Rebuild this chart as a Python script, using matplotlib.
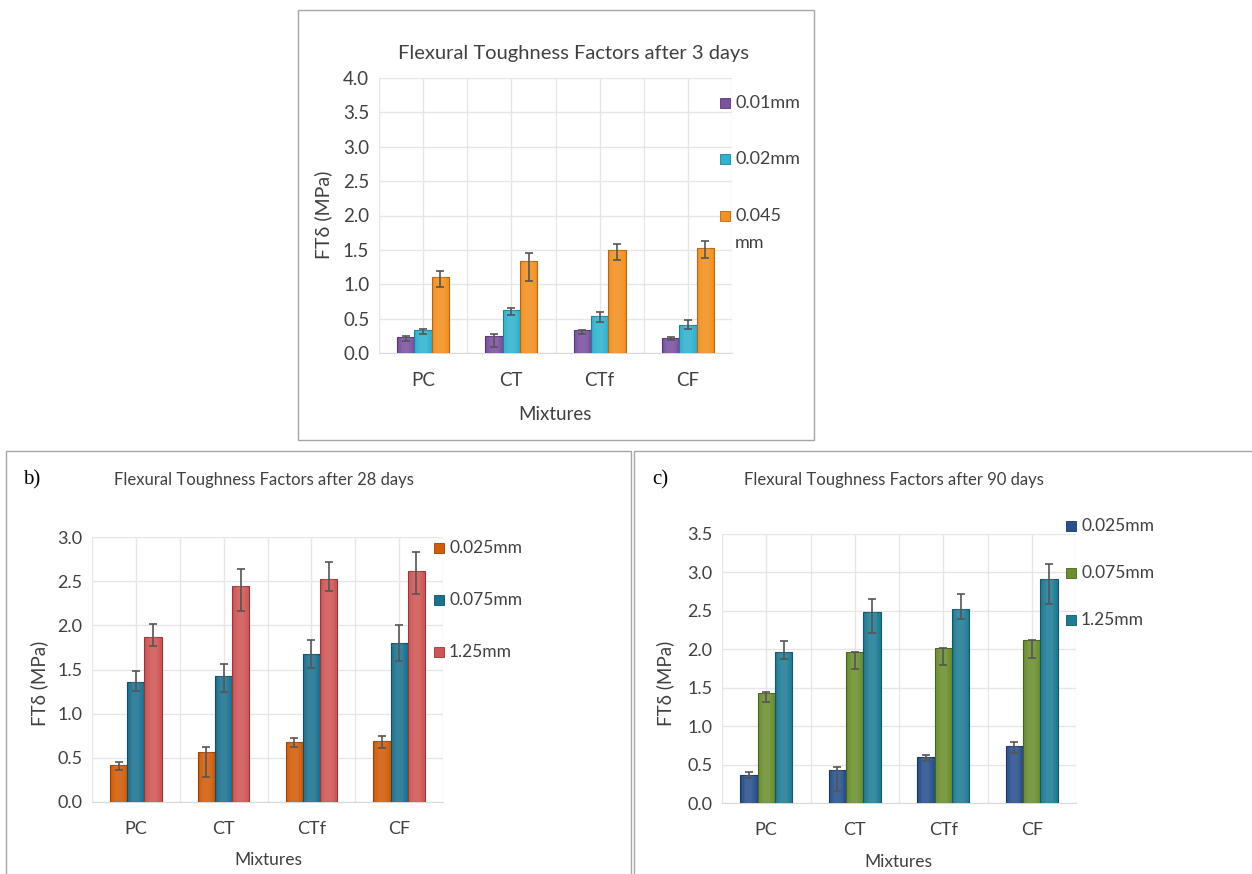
import numpy as np
import matplotlib
matplotlib.use("Agg")
import matplotlib.pyplot as plt
from matplotlib.patches import Rectangle

plt.rcParams['font.family'] = ['Lato', 'DejaVu Sans']

mixtures = ["PC", "CT", "CTf", "CF"]

# a) 3 days
labels_3 = ["0.01mm", "0.02mm", "0.045\nmm"]
vals_3 = [[0.23, 0.25, 0.33, 0.22],
          [0.33, 0.63, 0.54, 0.41],
          [1.11, 1.34, 1.50, 1.53]]
hi_3 = [[0.25, 0.28, 0.34, 0.23],
        [0.35, 0.66, 0.60, 0.48],
        [1.19, 1.45, 1.59, 1.63]]
lo_3 = [[0.18, 0.09, 0.28, 0.19],
        [0.27, 0.56, 0.45, 0.35],
        [0.96, 1.05, 1.36, 1.38]]

# b) 28 days
labels_28 = ["0.025mm", "0.075mm", "1.25mm"]
vals_28 = [[0.42, 0.57, 0.68, 0.69],
           [1.36, 1.43, 1.68, 1.80],
           [1.87, 2.44, 2.53, 2.62]]
hi_28 = [[0.45, 0.62, 0.72, 0.75],
         [1.48, 1.56, 1.83, 2.00],
         [2.02, 2.64, 2.72, 2.83]]
lo_28 = [[0.36, 0.28, 0.62, 0.61],
         [1.26, 1.24, 1.52, 1.60],
         [1.77, 2.16, 2.39, 2.35]]

# c) 90 days
labels_90 = ["0.025mm", "0.075mm", "1.25mm"]
vals_90 = [[0.37, 0.43, 0.60, 0.74],
           [1.43, 1.96, 2.02, 2.12],
           [1.96, 2.48, 2.53, 2.91]]
hi_90 = [[0.40, 0.47, 0.63, 0.80],
         [1.44, 1.97, 2.02, 2.12],
         [2.11, 2.66, 2.72, 3.11]]
lo_90 = [[0.33, 0.16, 0.54, 0.65],
         [1.31, 1.75, 1.79, 1.89],
         [1.87, 2.21, 2.39, 2.59]]

cols_3 = [("#7b51a1", "#553573"), ("#2fb2cf", "#1e7f96"), ("#f3911f", "#b8650f")]
cols_28 = [("#d35c08", "#9c4206"), ("#1b7290", "#114e63"), ("#cf5555", "#9a3636")]
cols_90 = [("#28508e", "#183563"), ("#6b8f2f", "#48621e"), ("#1f7c95", "#135668")]

W, H = 1252, 874
fig = plt.figure(figsize=(W / 100, H / 100), dpi=100)
fig.patch.set_facecolor("white")

TXT = "#404040"


def fx(px):
    return px / W


def fy(py):
    return 1 - py / H


def box(x0, y0, x1, y1):
    fig.add_artist(Rectangle((fx(x0), fy(y1)), fx(x1 - x0), (y1 - y0) / H,
                             transform=fig.transFigure, fill=False,
                             edgecolor="#a6a6a6", linewidth=1.0))


def panel(rect, vals, hi, lo, cols, ymax, fs):
    ax = fig.add_axes(rect)
    x = np.arange(len(mixtures))
    w = 0.196
    for i in range(3):
        v = np.array(vals[i])
        err = [v - np.array(lo[i]), np.array(hi[i]) - v]
        ax.bar(x + (i - 1) * w, v, width=w, color=cols[i][0],
               edgecolor=cols[i][1], linewidth=0.8, zorder=3)
        # stacked translucent strips -> lighter centre, like Excel's bevel
        for f in [0.8, 0.6, 0.4]:
            ax.bar(x + (i - 1) * w, v, width=w * f, color="white",
                   alpha=0.045, linewidth=0, zorder=3.5)
        ax.errorbar(x + (i - 1) * w, v, yerr=err, fmt="none",
                    ecolor="#555555", elinewidth=1.2, capsize=3,
                    capthick=1.2, zorder=4)
    ax.set_xlim(-0.5, len(mixtures) - 0.5)
    ax.set_ylim(0, ymax)
    ticks = np.arange(0, ymax + 0.01, 0.5)
    ax.set_yticks(ticks)
    ax.set_yticklabels([f"{t:.1f}" for t in ticks])
    ax.set_xticks(x)
    ax.set_xticklabels(mixtures)
    ax.grid(axis="y", color="#e6e6e6", linewidth=1.0, zorder=0)
    for g in np.arange(-0.5, len(mixtures), 0.5):
        ax.axvline(g, color="#e6e6e6", linewidth=1.0, zorder=0)
    ax.tick_params(which="both", length=0, labelsize=fs, colors=TXT, pad=7)
    ax.tick_params(axis="x", pad=14)
    for s in ["top", "right", "left"]:
        ax.spines[s].set_visible(False)
    ax.spines["bottom"].set_color("#d9d9d9")
    ax.set_axisbelow(True)
    return ax


def legend(labels, cols, x_mark, ys, fs):
    for lab, c, y in zip(labels, cols, ys):
        fig.add_artist(Rectangle((fx(x_mark), fy(y + 5)), fx(10), 10 / H,
                                 transform=fig.transFigure,
                                 facecolor=c[0], edgecolor=c[1], linewidth=0.6))
        fig.text(fx(x_mark + 15), fy(y), lab, fontsize=fs, color=TXT,
                 ha="left", va="center")


# ---- top panel ----
box(298, 10, 814, 440)
panel([fx(379), fy(353), fx(353), 275 / H], vals_3, hi_3, lo_3, cols_3, 4.0, 13.5)
fig.text(fx(574), fy(53), "Flexural Toughness Factors after 3 days",
         fontsize=14.5, color=TXT, ha="center", va="center")
fig.text(fx(323), fy(215), "FTδ (MPa)", fontsize=14, color=TXT,
         rotation=90, ha="center", va="center")
fig.text(fx(555), fy(415), "Mixtures", fontsize=13.5, color=TXT,
         ha="center", va="center")
legend(labels_3[:2], cols_3[:2], 720, [103, 159], 13)
fig.add_artist(Rectangle((fx(720), fy(221)), fx(10), 10 / H,
                         transform=fig.transFigure,
                         facecolor=cols_3[2][0], edgecolor=cols_3[2][1], linewidth=0.6))
fig.text(fx(735), fy(216), "0.045", fontsize=13, color=TXT, ha="left", va="center")
fig.text(fx(735), fy(243), "mm", fontsize=13, color=TXT, ha="left", va="center")

# ---- b) 28 days ----
box(6, 451, 631, 880)
panel([fx(92), fy(802), fx(351), 265 / H], vals_28, hi_28, lo_28, cols_28, 3.0, 13)
fig.text(fx(32), fy(480), "b)", fontsize=15, family="Liberation Serif",
         ha="center", va="center", color="black")
fig.text(fx(264), fy(480), "Flexural Toughness Factors after 28 days",
         fontsize=12, color=TXT, ha="center", va="center")
fig.text(fx(39), fy(683), "FTδ (MPa)", fontsize=13.5, color=TXT,
         rotation=90, ha="center", va="center")
fig.text(fx(268), fy(860), "Mixtures", fontsize=12.5, color=TXT,
         ha="center", va="center")
legend(labels_28, cols_28, 434, [548, 600, 652], 12.5)

# ---- c) 90 days ----
box(634, 451, 1260, 880)
panel([fx(722), fy(803), fx(354), 269 / H], vals_90, hi_90, lo_90, cols_90, 3.5, 13)
fig.text(fx(660), fy(480), "c)", fontsize=15, family="Liberation Serif",
         ha="center", va="center", color="black")
fig.text(fx(894), fy(480), "Flexural Toughness Factors after 90 days",
         fontsize=12, color=TXT, ha="center", va="center")
fig.text(fx(665), fy(683), "FTδ (MPa)", fontsize=13.5, color=TXT,
         rotation=90, ha="center", va="center")
fig.text(fx(898), fy(862), "Mixtures", fontsize=12.5, color=TXT,
         ha="center", va="center")
legend(labels_90, cols_90, 1066, [526, 573, 620], 12.5)

fig.savefig("out.png", dpi=100, facecolor="white")
